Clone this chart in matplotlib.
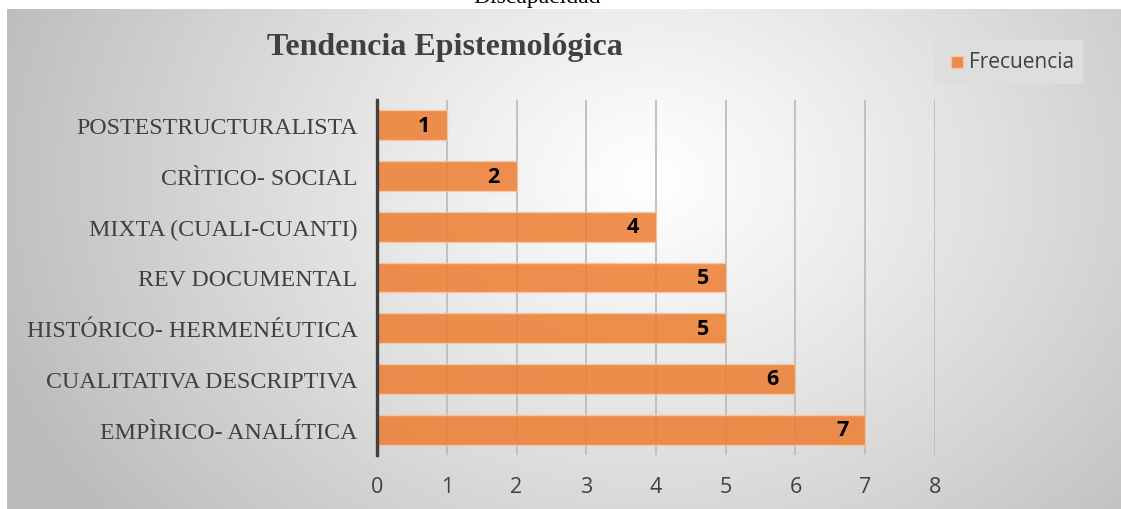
import numpy as np
import matplotlib
matplotlib.use("Agg")
import matplotlib.pyplot as plt
from matplotlib.patches import Rectangle

categories = ["POSTESTRUCTURALISTA", "CRÌTICO- SOCIAL", "MIXTA (CUALI-CUANTI)",
              "REV DOCUMENTAL", "HISTÓRICO- HERMENÉUTICA", "CUALITATIVA DESCRIPTIVA",
              "EMPÌRICO- ANALÍTICA"]
frecuencia = [1, 2, 4, 5, 5, 6, 7]
xticks = [0, 1, 2, 3, 4, 5, 6, 7, 8]
title = "Tendencia Epistemológica"
series_name = "Frecuencia"
top_text = "Discapacidad"

W, H = 1121, 510
fig = plt.figure(figsize=(W / 100, H / 100), dpi=100)
fig.patch.set_facecolor("white")

# background panel with radial gradient
bg = fig.add_axes([7 / W, 0, (W - 7) / W, (H - 10) / H])
bg.set_axis_off()
nx, ny = 560, 250
xs = np.linspace(7, W, nx)
ys = np.linspace(10, H, ny)
X, Y = np.meshgrid(xs, ys)
cx, cy = 650, 180
r = np.sqrt(((X - cx) / 700) ** 2 + ((Y - cy) / 560) ** 2)
val = 255 - 68 * np.clip(r, 0, 1) ** 1.1
val = val / 255.0
img = np.dstack([val, val, val])
bg.imshow(img, aspect="auto", extent=[0, 1, 0, 1], origin="upper", interpolation="bilinear")
bg.set_xlim(0, 1)
bg.set_ylim(0, 1)

# cut-off caption at very top (as in the reference)
fig.text(537 / W, (H - 3) / H, top_text, family="Liberation Serif", fontsize=17,
         color="black", ha="center", va="baseline")

# main axes
ax = fig.add_axes([377 / W, 54 / H, 558 / W, 355 / H])
ax.patch.set_alpha(0)
ypos = np.arange(len(categories))
ax.set_xlim(0, 8)
ax.set_ylim(len(categories) - 0.5, -0.5)
ax.set_xticks(xticks)
ax.set_xticklabels([str(t) for t in xticks], family="Open Sans", fontsize=15.5, color="#404040")
ax.set_yticks(ypos)
ax.set_yticklabels(categories, family="Liberation Serif", fontsize=17.2, color="#404040")
ax.tick_params(axis="both", length=0)
ax.tick_params(axis="x", pad=15)
ax.tick_params(axis="y", pad=14)
for s in ["top", "right", "bottom"]:
    ax.spines[s].set_visible(False)
ax.spines["left"].set_color("#404040")
ax.spines["left"].set_linewidth(2.4)
ax.set_axisbelow(True)
ax.xaxis.grid(True, color="#bdbdbd", linewidth=1.3)
ax.yaxis.grid(False)

ax.barh(ypos, frecuencia, height=0.59, color="#ED7D31", alpha=0.85,
        edgecolor="#f6c8a6", linewidth=1.0, label=series_name, zorder=2)
for y, v in zip(ypos, frecuencia):
    ax.annotate(str(v), xy=(v, y), xytext=(-12, 0), textcoords="offset points",
                ha="right", va="center", family="Open Sans", fontweight="bold",
                fontsize=15.5, color="black", zorder=3)

# title
fig.text(445 / W, (H - 48) / H, title, family="Liberation Serif", fontweight="bold",
         fontsize=23, color="#404040", ha="center", va="center")

# legend
leg_ax = fig.add_axes([0, 0, 1, 1])
leg_ax.set_axis_off()
leg_ax.set_xlim(0, W)
leg_ax.set_ylim(H, 0)
leg_ax.add_patch(Rectangle((934, 41), 149, 44, facecolor="#dedede", edgecolor="none"))
leg_ax.add_patch(Rectangle((951, 57), 12, 12, facecolor="#ED7D31", alpha=0.85,
                           edgecolor="#f6c8a6", linewidth=1))
leg_ax.text(969, 63, series_name, family="Open Sans", fontsize=15, color="#404040",
            ha="left", va="center")

fig.savefig("out.png", dpi=100)
